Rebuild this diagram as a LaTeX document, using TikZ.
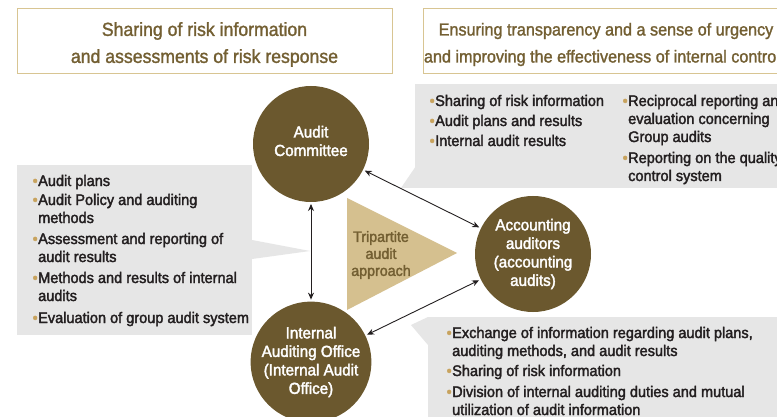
\documentclass[tikz,border=0pt]{standalone}
\usepackage{fontspec}
\setmainfont[FakeStretch=0.95, FakeBold=2.2]{Liberation Sans}
\newfontfamily\headfont[FakeStretch=0.93, FakeBold=1.4]{Liberation Sans}
\usetikzlibrary{arrows.meta}
\definecolor{olbrown}{HTML}{6B582E}
\definecolor{headbrown}{HTML}{735F32}
\definecolor{tan}{HTML}{D5C08F}
\definecolor{frame}{HTML}{D8C592}
\definecolor{panel}{HTML}{E6E6E6}
\definecolor{bgold}{HTML}{C8A35E}
\definecolor{ink}{HTML}{231F20}
\newcommand{\bul}{\llap{\textcolor{bgold}{\textbullet}\hspace{0.5pt}}}

\begin{document}
\begin{tikzpicture}[x=1pt, y=-1pt, >={Stealth[length=7pt, width=6pt]},
  party/.style={circle, fill=olbrown, minimum size=116pt, inner sep=0pt, outer sep=2pt,
    text=white, align=center, font=\fontsize{16}{18.5}\selectfont},
  partytext/.style={text=white, align=center, inner sep=0pt, font=\fontsize{16}{18.5}\selectfont},
  item/.style={anchor=base west, inner sep=0pt, align=left, text=ink,
    font=\fontsize{15.3}{18}\selectfont},
  heading/.style={text=headbrown, align=center, font=\headfont\fontsize{19}{27}\selectfont},
  link/.style={<->, ink, line width=0.9pt}]

% Background
\useasboundingbox (0,0) rectangle (777,417);
\clip (0,0) rectangle (777,417);
\fill[white] (0,0) rectangle (777,417);

% Headings
\draw[frame, line width=1pt] (17,9) rectangle (392,74);
\node[heading] (headL) at (204.5,44.5) {Sharing of risk information\\and assessments of risk response};
\draw[frame, line width=1pt] (800,9) -- (423,9) -- (423,74) -- (800,74);
\node[heading, font=\headfont\fontsize{17.4}{27}\selectfont] (headR) at (606,44.5)
  {Ensuring transparency and a sense of urgency\\and improving the effectiveness of internal controls};

% Callout panels
\fill[panel] (17,165) rectangle (252,335);
\fill[panel] (252,240) -- (310,251) -- (252,259) -- cycle;
\fill[panel] (415,84) rectangle (790,188);
\fill[panel] (416,166) -- (401,188) -- (416,188) -- cycle;
\fill[panel] (428,317) rectangle (790,430);
\fill[panel] (428,317) -- (411,325) -- (428,345) -- cycle;

% Tripartite triangle
\fill[tan] (347,198) -- (457,253) -- (347,310) -- cycle;
\node[text=headbrown, align=center, font=\fontsize{15}{17}\selectfont] (tri) at (381,255)
  {Tripartite\\audit\\approach};

% Three parties
\node[party] (ac) at (311,144) {};
\node[partytext] (acText) at (311,141) {Audit\\Committee};
\node[party] (aa) at (533,254) {Accounting\\auditors\\(accounting\\audits)};
\node[party] (iao) at (311,362) {Internal\\Auditing Office\\(Internal Audit\\Office)};

\draw[link] (ac) -- (iao);
\draw[link] (ac) -- (aa);
\draw[link] (iao) -- (aa);

% Left panel items (anchored on the last line)
\node[item] (l1) at (38,186) {\bul Audit plans};
\node[item] (l2) at (38,223) {\bul Audit Policy and auditing\\methods};
\node[item] (l3) at (38,262) {\bul Assessment and reporting of\\audit results};
\node[item] (l4) at (38,301) {\bul Methods and results of internal\\audits};
\node[item] (l5) at (38,323) {\bul Evaluation of group audit system};

% Top right panel items
\node[item] (t1) at (435,106) {\bul Sharing of risk information};
\node[item] (t2) at (435,126) {\bul Audit plans and results};
\node[item] (t3) at (435,146) {\bul Internal audit results};
\node[item] (t4) at (628,142) {\bul Reciprocal reporting and\\evaluation concerning\\Group audits};
\node[item] (t5) at (628,181) {\bul Reporting on the quality\\control system};

% Bottom right panel items
\node[item] (b1) at (452,356) {\bul Exchange of information regarding audit plans,\\auditing methods, and audit results};
\node[item] (b2) at (452,376) {\bul Sharing of risk information};
\node[item] (b3) at (452,415) {\bul Division of internal auditing duties and mutual\\utilization of audit information};

\end{tikzpicture}
\end{document}
